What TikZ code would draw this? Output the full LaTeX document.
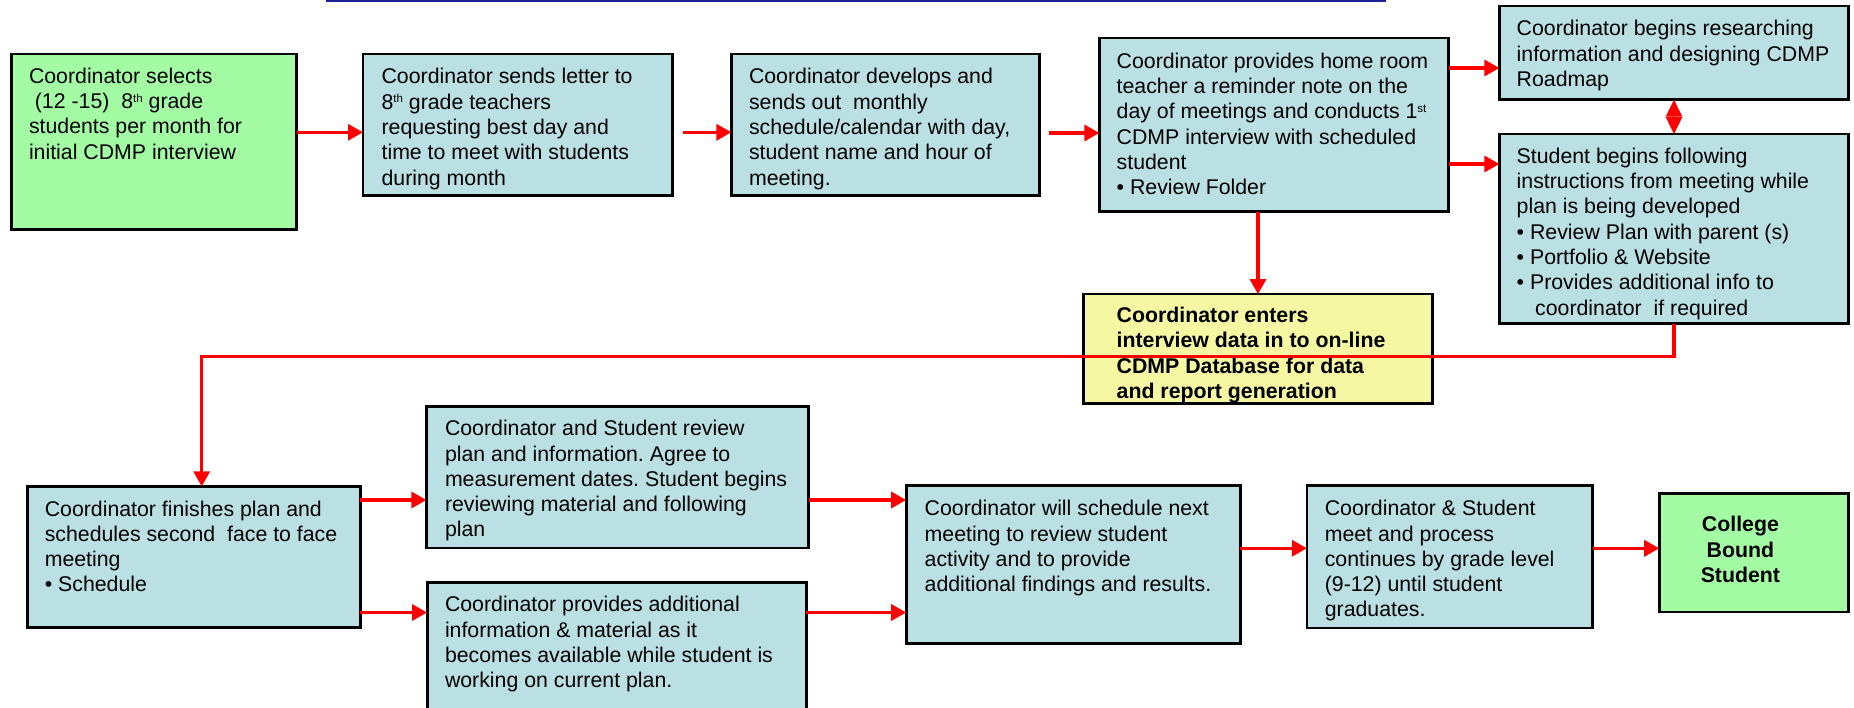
\documentclass[tikz,border=0pt]{standalone}
\usepackage{fontspec}
\setmainfont{Liberation Sans}
\usetikzlibrary{arrows.meta}
\definecolor{boxblue}{RGB}{186,224,227}
\definecolor{boxgreen}{RGB}{163,252,163}
\definecolor{boxyellow}{RGB}{245,247,162}
\definecolor{arrred}{RGB}{255,0,0}
\definecolor{titleblue}{RGB}{30,30,150}
\frenchspacing
\newcommand\bodyfs{\fontsize{21.3}{25.3}\selectfont}
\newcommand\supx[1]{\raisebox{6.5pt}{\fontsize{11.5}{12}\selectfont #1}}
\newcommand\boxlines[1]{\parbox[t]{420pt}{\bodyfs\raggedright #1}}
\tikzset{
  box/.style={draw=black, line width=2.8pt, inner sep=0pt, outer sep=0pt},
  bluebox/.style={box, fill=boxblue},
  greenbox/.style={box, fill=boxgreen},
  yellowbox/.style={box, fill=boxyellow},
  txt/.style={anchor=base west, inner sep=0pt, outer sep=0pt},
  arr/.style={draw=arrred, line width=3.2pt, -{Triangle[length=15pt,width=16pt]}},
  dblarr/.style={draw=arrred, line width=2pt, {Triangle[length=17pt,width=16pt]}-{Triangle[length=17pt,width=16pt]}},
}
\begin{document}
\begin{tikzpicture}[x=1pt,y=-1pt]
\useasboundingbox (0,0) rectangle (1854,708);
\clip (0,0) rectangle (1854,708);
% title bar remnant
\draw[titleblue, line width=2.4pt] (325.7,1) -- (1386,1);
% boxes
\node[greenbox, minimum width=285.2pt, minimum height=175.5pt] (A) at (154,141.85) {};
\node[bluebox, minimum width=309.6pt, minimum height=141.2pt] (B) at (517.8,124.7) {};
\node[bluebox, minimum width=308.2pt, minimum height=141.2pt] (C) at (885.5,124.7) {};
\node[bluebox, minimum width=349.2pt, minimum height=173.5pt] (D) at (1274,124.85) {};
\node[bluebox, minimum width=349.2pt, minimum height=93.5pt] (E) at (1674,52.85) {};
\node[bluebox, minimum width=349.2pt, minimum height=189.5pt] (F) at (1674,228.85) {};
\node[yellowbox, minimum width=349.2pt, minimum height=109.5pt] (G) at (1258,348.85) {};
\node[bluebox, minimum width=332.4pt, minimum height=140.9pt] (H) at (194,556.85) {};
\node[bluebox, minimum width=382.2pt, minimum height=141.8pt] (I) at (617.5,477) {};
\node[bluebox, minimum width=379pt, minimum height=156.2pt] (J) at (616.6,660.5) {};
\node[bluebox, minimum width=333.9pt, minimum height=157.9pt] (K) at (1073.15,564.65) {};
\node[bluebox, minimum width=285.7pt, minimum height=142.2pt] (L) at (1449.75,556.8) {};
\node[greenbox, minimum width=189.4pt, minimum height=118.2pt] (M) at (1753.9,552.8) {};
% texts
\node[txt] (At) at (29,83.3) {\boxlines{Coordinator selects\\
\hspace*{5.9pt}(12 -15)\ \ 8\supx{th} grade\\
students per month for\\
initial CDMP interview}};
\node[txt] (Bt) at (381.6,84) {\boxlines{Coordinator sends letter to\\
8\supx{th} grade teachers\\
requesting best day and\\
time to meet with students\\
during month}};
\node[txt] (Ct) at (749,84) {\boxlines{Coordinator develops and\\
sends out\ \ monthly\\
schedule/calendar with day,\\
student name and hour of\\
meeting.}};
\node[txt] (Dt) at (1116.7,68.3) {\boxlines{Coordinator provides home room\\
teacher a reminder note on the\\
day of meetings and conducts 1\supx{st}\\
CDMP interview with scheduled\\
student\\
• Review Folder}};
\node[txt] (Et) at (1516.7,36) {\boxlines{Coordinator begins researching\\
information and designing CDMP\\
Roadmap}};
\node[txt] (Ft) at (1516.7,163.3) {\boxlines{Student begins following\\
instructions from meeting while\\
plan is being developed\\
• Review Plan with parent (s)\\
• Portfolio \& Website\\
• Provides additional info to\\
\hspace*{18.5pt}coordinator\ \ if required}};
\node[txt] (Gt) at (1116.7,322.7) {\boxlines{\bfseries Coordinator enters\\
interview data in to on-line\\
CDMP Database for data\\
and report generation}};
\node[txt] (Ht) at (44.8,516) {\boxlines{Coordinator finishes plan and\\
schedules second\ \ face to face\\
meeting\\
• Schedule}};
\node[txt] (It) at (445,435.7) {\boxlines{Coordinator and Student review\\
plan and information. Agree to\\
measurement dates. Student begins\\
reviewing material and following\\
plan}};
\node[txt] (Jt) at (445,611.7) {\boxlines{Coordinator provides additional\\
information \& material as it\\
becomes available while student is\\
working on current plan.}};
\node[txt] (Kt) at (924.7,515.7) {\boxlines{Coordinator will schedule next\\
meeting to review student\\
activity and to provide\\
additional findings and results.}};
\node[txt] (Lt) at (1324.8,515.7) {\boxlines{Coordinator \& Student\\
meet and process\\
continues by grade level\\
(9-12) until student\\
graduates.}};
\node[anchor=base, inner sep=0pt] (Mt) at (1740.4,531.7) {\parbox[t]{150pt}{\centering\bodyfs\bfseries College\\Bound\\Student}};
% helper coordinates for connector heights
\coordinate (y1) at (0,132.3);
\coordinate (y2) at (0,133);
\coordinate (y3) at (0,68);
\coordinate (y4) at (0,164);
\coordinate (y5) at (0,500);
\coordinate (y6) at (0,612.5);
\coordinate (y7) at (0,548.3);
\coordinate (Hin) at ([xshift=7.7pt]H.north);
\coordinate (bend) at (201.7,356.7);
% connectors
\draw[arr] (A.east |- y1) -- (B.west |- y1);
\draw[arr, shorten <=10pt] (B.east |- y1) -- (C.west |- y1);
\draw[arr, shorten <=9pt] (C.east |- y2) -- (D.west |- y2);
\draw[arr] (D.east |- y3) -- (E.west |- y3);
\draw[arr] (D.east |- y4) -- (F.west |- y4);
\draw[dblarr] (E.south) -- (F.north);
\draw[arr] (G.north |- D.south) -- (G.north);
\draw[arr] (F.south) |- (bend) -- (Hin);
\draw[arr] (H.east |- y5) -- (I.west |- y5);
\draw[arr] (H.east |- y6) -- (J.west |- y6);
\draw[arr] (I.east |- y5) -- (K.west |- y5);
\draw[arr] (J.east |- y6) -- (K.west |- y6);
\draw[arr] (K.east |- y7) -- (L.west |- y7);
\draw[arr] (L.east |- y7) -- (M.west |- y7);
\end{tikzpicture}
\end{document}
